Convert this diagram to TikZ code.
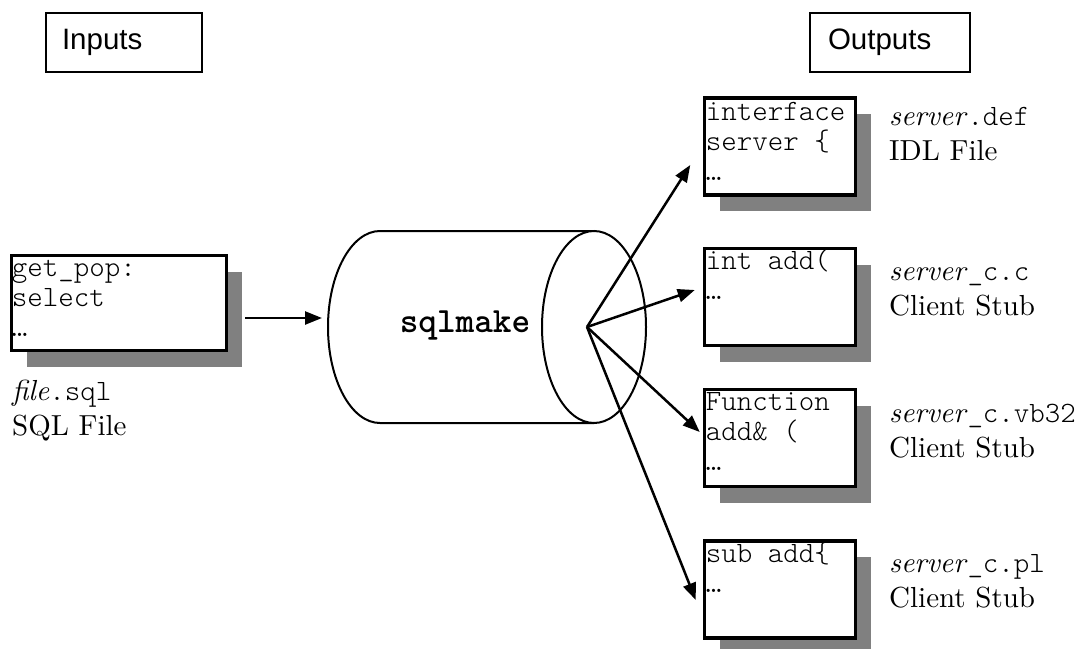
\documentclass[tikz,border=0pt]{standalone}
\usepackage{fontspec}
\setmainfont{lmroman10-regular.otf}[ItalicFont=lmroman10-italic.otf]
\newfontfamily\codefont{lmmonolt10-regular.otf}[BoldFont=lmmonolt10-bold.otf]
\newfontfamily\headfont{Liberation Sans}
\usetikzlibrary{arrows.meta,shadows,calc}
\definecolor{shadowgray}{HTML}{808080}
\newcommand{\cd}[1]{{\codefont\fontsize{29.5}{30}\selectfont #1}}
% multi-line nodes below are placed by the baseline of their last line
\tikzset{
  header/.style={draw, line width=2pt, minimum height=59pt, align=left,
    text width=124pt, inner xsep=16pt, font=\headfont\fontsize{29.5}{34}\selectfont},
  codebox/.style={draw, line width=3.5pt, fill=white, minimum width=151pt, minimum height=97pt,
    drop shadow={shadow xshift=15pt, shadow yshift=-16pt, fill=shadowgray, opacity=1}},
  codetext/.style={anchor=base west, inner sep=0pt, align=left,
    font=\codefont\fontsize{29.5}{30}\selectfont},
  caption/.style={anchor=base west, inner sep=0pt, align=left,
    font=\fontsize{29}{35}\selectfont},
  cyl/.style={line width=2pt, fill=white},
  arr/.style={line width=2.5pt, -{Triangle[length=17pt,width=13pt]}}
}
\begin{document}
\begin{tikzpicture}[x=1pt, y=-1pt]
\useasboundingbox (0,0) rectangle (1092,648);

% column headers
\node[header] (inputs) at (124,42.5) {Inputs};
\node[header, inner xsep=18pt] (outputs) at (890,42.5) {Outputs};

% input file
\node[codebox, minimum width=215pt, minimum height=95pt] (src) at (119,303) {};
\node[codetext] (srctext) at ($(src.north west)+(2,83)$) {get\_pop:\\select\\…};
\node[caption] (srccap) at (12,435) {\textit{file}\cd{.sql}\\SQL File};

% the sqlmake tool, drawn as a cylinder seen from its right end
\path[cyl, draw] (594,231) -- (380,231)
  arc[start angle=-90, end angle=-270, x radius=52, y radius=96]
  -- (594,423);
\draw[cyl] (594,327) ellipse[x radius=52, y radius=96];
\node[font=\codefont\bfseries\fontsize{35.5}{40}\selectfont] (tool) at (465,325) {sqlmake};
\coordinate (toolin) at (322,318);
\coordinate (hub) at (587,327);

% generated files
\node[codebox] (idl) at (780,146.5) {};
\node[codebox] (cstub) at (780,297) {};
\node[codebox] (vbstub) at (780,438) {};
\node[codebox] (plstub) at (780,589.5) {};

\node[codetext] at ($(idl.north west)+(3,84)$) {interface\\server \{\\…};
\node[codetext] at ($(cstub.north west)+(3,53)$) {int add(\\…};
\node[codetext] at ($(vbstub.north west)+(3,83)$) {Function\\add\& (\\…};
\node[codetext] at ($(plstub.north west)+(3,53)$) {sub add\{\\…};

\node[caption] (idlcap) at (889,160) {\textit{server}\cd{.def}\\IDL File};
\node[caption] (ccap) at (889,315) {\textit{server}\cd{\_c.c}\\Client Stub};
\node[caption] (vbcap) at (889,457) {\textit{server}\cd{\_c.vb32}\\Client Stub};
\node[caption] (plcap) at (889,607) {\textit{server}\cd{\_c.pl}\\Client Stub};

% connectors
\draw[arr] ($(src.east)+(17,15)$) -- (toolin);
\draw[arr] (hub) -- ($(idl.west)+(-12.5,18.5)$);
\draw[arr] (hub) -- ($(cstub.west)+(-8,-7)$);
\draw[arr] (hub) -- ($(vbstub.west)+(-3,-6)$);
\draw[arr] (hub) -- ($(plstub.west)+(-7,10.5)$);
\end{tikzpicture}
\end{document}
